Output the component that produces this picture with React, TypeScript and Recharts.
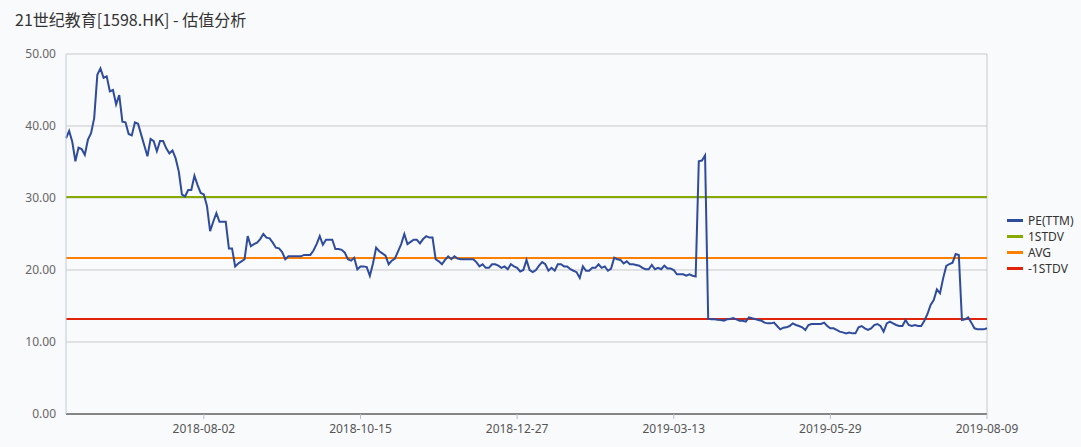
import { LineChart, Line, XAxis, YAxis, CartesianGrid, ReferenceLine } from "recharts";

// PE(TTM), one value per trading day
const peValues = [
  38.3, 39.3, 37.8, 35.1, 37.0, 36.8, 36.0, 38.1, 39.0, 41.1, 47.1, 48.0, 46.7, 46.9, 44.8, 45.0,
  43.0, 44.3, 40.6, 40.5, 38.9, 38.7, 40.5, 40.3, 38.8, 37.3, 35.8, 38.2, 37.9, 36.5, 37.9, 37.9,
  36.9, 36.2, 36.6, 35.5, 33.7, 30.5, 30.2, 31.1, 31.1, 33.1, 31.8, 30.7, 30.5, 28.9, 25.4,
  26.7, 27.9, 26.7, 26.7, 26.7, 23.0, 23.0, 20.5, 20.9, 21.2, 21.5, 24.7, 23.3, 23.6, 23.8, 24.3,
  25.0, 24.5, 24.4, 23.8, 23.1, 23.0, 22.5, 21.5, 21.9, 21.9, 21.9, 21.9, 21.9, 22.1, 22.1, 22.1,
  22.7, 23.6, 24.7, 23.5, 24.2, 24.2, 24.2, 22.9, 22.9, 22.8, 22.4, 21.5, 21.3, 21.7, 20.1, 20.5,
  20.5, 20.4, 19.2,
  20.9, 23.1, 22.6, 22.3, 22.0, 20.8, 21.3, 21.6, 22.6, 23.6, 25.0, 23.6, 23.9, 24.2, 24.2, 23.7,
  24.3, 24.7, 24.5, 24.5, 21.5, 21.2, 20.8, 21.4, 21.9, 21.5, 21.9, 21.6, 21.5, 21.5, 21.5, 21.5,
  21.5, 21.1, 20.5, 20.8, 20.3, 20.3, 20.8, 20.8, 20.6, 20.3, 20.5, 20.1, 20.8, 20.5, 20.3,
  19.8, 20.0, 21.4, 20.0, 19.7, 20.0, 20.6, 21.1, 20.8, 19.9, 20.3, 19.9, 20.8, 20.8, 20.5, 20.5,
  20.1, 19.9, 19.7, 18.9, 20.5, 19.9, 19.9, 20.3, 20.3, 20.8, 20.3, 20.5, 19.9, 20.2, 21.7, 21.5,
  21.4, 20.9, 21.2, 20.8, 20.8, 20.7, 20.6, 20.3, 20.1, 20.1, 20.7, 20.1, 20.3, 20.1, 20.6, 20.2,
  20.2, 20.0, 19.4, 19.4, 19.4, 19.2, 19.4, 19.2, 19.1, 35.1, 35.2, 35.9,
  13.2, 13.15, 13.15, 13.1, 13.06, 12.96, 13.15, 13.19, 13.33, 13.15, 12.96, 12.96, 12.82, 13.43,
  13.29, 13.19, 13.06, 12.96, 12.69, 12.59, 12.59, 12.69, 12.22, 11.76, 11.99, 12.04, 12.22, 12.59,
  12.36, 12.22, 12.04, 11.67, 12.36, 12.5, 12.5, 12.5, 12.5, 12.69, 12.22, 11.9, 11.9, 11.67,
  11.44, 11.34, 11.2, 11.3, 11.2, 11.2, 12.04, 12.22, 11.9, 11.67,
  11.9, 12.36, 12.5, 12.22, 11.44, 12.59, 12.82, 12.59, 12.36, 12.22, 12.22, 13.06, 12.36, 12.22,
  12.36, 12.22, 12.22, 12.96, 13.89, 15.14, 15.83, 17.31, 16.76, 18.84, 20.56, 20.83, 21.02, 22.22,
  22.08, 13.06, 13.15, 13.43, 12.69, 11.9, 11.76, 11.76, 11.76, 11.9,
];

const tickIndexes = [44, 94, 144, 194, 244, 294];
const tickLabels = ["2018-08-02", "2018-10-15", "2018-12-27", "2019-03-13", "2019-05-29", "2019-08-09"];
const yTicks = [0, 10, 20, 30, 40, 50];

const stdvUp = 30.14;
const avg = 21.66;
const stdvDown = 13.19;

const colors = {
  pe: "#2f4b9b",
  up: "#88aa00",
  avg: "#ff7f00",
  down: "#e2230c",
};

const legendItems = [
  { name: "PE(TTM)", color: colors.pe },
  { name: "1STDV", color: colors.up },
  { name: "AVG", color: colors.avg },
  { name: "-1STDV", color: colors.down },
];

const data = peValues.map((pe, idx) => ({ idx, pe }));

function labelFor(idx: number) {
  const pos = tickIndexes.indexOf(idx);
  return pos >= 0 ? tickLabels[pos] : "";
}

export default function App() {
  return (
    <div
      style={{
        position: "absolute",
        left: 0,
        top: 0,
        width: 1081,
        height: 447,
        background: "#f9fafc",
        fontFamily: "'Noto Sans', sans-serif",
      }}
    >
      <div
        style={{
          position: "absolute",
          left: 15,
          top: 9,
          fontSize: 16,
          lineHeight: "20px",
          color: "#333",
          fontFamily: "'Noto Sans CJK SC', 'Noto Sans', sans-serif",
        }}
      >
        21世纪教育[1598.HK] - 估值分析
      </div>

      <LineChart
        width={1081}
        height={447}
        data={data}
        margin={{ top: 54, right: 94, bottom: 0, left: 0 }}
      >
        <CartesianGrid vertical={false} stroke="#c9c9c9" />
        <XAxis
          dataKey="idx"
          type="number"
          domain={[0, 294]}
          ticks={tickIndexes}
          tickFormatter={labelFor}
          height={33}
          tickSize={5}
          tickMargin={5}
          interval={0}
          tick={{ fontSize: 12, fill: "#555" }}
          tickLine={{ stroke: "#b4c0d0" }}
          axisLine={{ stroke: "#858585", strokeWidth: 2 }}
        />
        <YAxis
          type="number"
          domain={[0, 50]}
          ticks={yTicks}
          width={66}
          tickFormatter={(v: number) => v.toFixed(2)}
          tickLine={false}
          tickMargin={4}
          tick={{ fontSize: 12, fill: "#666" }}
          axisLine={{ stroke: "#c3ccda" }}
        />
        <ReferenceLine x={294} stroke="#c9c9c9" />
        <ReferenceLine y={stdvUp} stroke={colors.up} strokeWidth={2} />
        <ReferenceLine y={avg} stroke={colors.avg} strokeWidth={2} />
        <ReferenceLine y={stdvDown} stroke={colors.down} strokeWidth={2} />
        <Line
          type="linear"
          dataKey="pe"
          name="PE(TTM)"
          stroke={colors.pe}
          strokeWidth={2}
          dot={false}
          isAnimationActive={false}
        />
      </LineChart>

      <div style={{ position: "absolute", left: 1007, top: 212 }}>
        {legendItems.map((item) => (
          <div
            key={item.name}
            style={{ display: "flex", alignItems: "center", height: 16, fontSize: 12, color: "#333" }}
          >
            <span style={{ width: 16, height: 3, background: item.color, marginRight: 5 }} />
            <span>{item.name}</span>
          </div>
        ))}
      </div>
    </div>
  );
}
